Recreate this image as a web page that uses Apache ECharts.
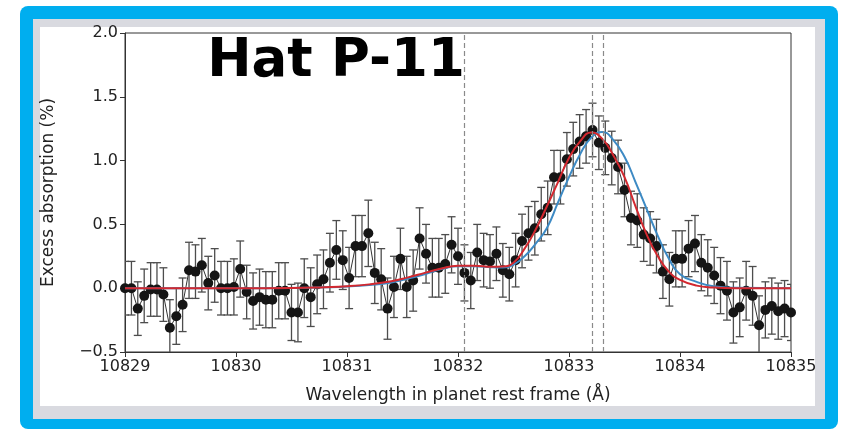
<!DOCTYPE html>
<html>
<head>
<meta charset="utf-8">
<script src="https://cdn.jsdelivr.net/npm/echarts@6/dist/echarts.min.js"></script>
<style>
html,body{margin:0;padding:0;background:#fff;}
#chart{width:841px;height:430px;}
</style>
</head>
<body>
<div id="chart"></div>
<script>
// Wavelength grid of the measured points (Å)
const wavelengths = [
10829.000,10829.058,10829.115,10829.173,10829.231,10829.288,10829.346,10829.404,10829.462,10829.519,
10829.577,10829.635,10829.692,10829.750,10829.808,10829.865,10829.923,10829.981,10830.038,10830.096,
10830.154,10830.212,10830.269,10830.327,10830.385,10830.442,10830.500,10830.558,10830.615,10830.673,
10830.731,10830.788,10830.846,10830.904,10830.962,10831.019,10831.077,10831.135,10831.192,10831.250,
10831.308,10831.365,10831.423,10831.481,10831.538,10831.596,10831.654,10831.712,10831.769,10831.827,
10831.885,10831.942,10832.000,10832.058,10832.115,10832.173,10832.231,10832.288,10832.346,10832.404,
10832.462,10832.519,10832.577,10832.635,10832.692,10832.750,10832.808,10832.865,10832.923,10832.981,
10833.038,10833.096,10833.154,10833.212,10833.269,10833.327,10833.385,10833.442,10833.500,10833.558,
10833.615,10833.673,10833.731,10833.788,10833.846,10833.904,10833.962,10834.019,10834.077,10834.135,
10834.192,10834.250,10834.308,10834.365,10834.423,10834.481,10834.538,10834.596,10834.654,10834.712,
10834.769,10834.827,10834.885,10834.942,10835.000];

// Excess absorption (%) at each wavelength
const absorption = [
0.00,0.00,-0.16,-0.06,-0.01,-0.01,-0.05,-0.31,-0.22,-0.13,
0.14,0.13,0.18,0.04,0.10,0.00,0.00,0.01,0.15,-0.03,
-0.10,-0.07,-0.09,-0.09,-0.02,-0.02,-0.19,-0.19,0.00,-0.07,
0.03,0.07,0.20,0.30,0.22,0.08,0.33,0.33,0.43,0.12,
0.07,-0.16,0.01,0.23,0.01,0.06,0.39,0.27,0.16,0.16,
0.19,0.34,0.25,0.12,0.06,0.28,0.22,0.21,0.27,0.14,
0.11,0.22,0.37,0.43,0.47,0.58,0.63,0.87,0.87,1.01,
1.09,1.15,1.19,1.24,1.14,1.10,1.02,0.95,0.77,0.55,
0.53,0.42,0.39,0.33,0.13,0.07,0.23,0.23,0.31,0.35,
0.20,0.16,0.10,0.02,-0.02,-0.19,-0.15,-0.02,-0.06,-0.29,
-0.17,-0.14,-0.18,-0.16,-0.19];

// 1-sigma uncertainties
const errors = [
0.21,0.21,0.21,0.21,0.21,0.21,0.21,0.22,0.22,0.21,
0.22,0.21,0.21,0.21,0.21,0.21,0.21,0.22,0.22,0.21,
0.22,0.22,0.22,0.22,0.22,0.22,0.22,0.23,0.23,0.23,
0.23,0.23,0.23,0.23,0.23,0.24,0.24,0.24,0.26,0.24,
0.24,0.24,0.24,0.24,0.24,0.24,0.24,0.23,0.23,0.23,
0.23,0.22,0.22,0.22,0.22,0.22,0.21,0.21,0.21,0.21,
0.21,0.21,0.21,0.21,0.21,0.21,0.21,0.21,0.21,0.21,
0.21,0.21,0.21,0.21,0.21,0.21,0.21,0.21,0.21,0.21,
0.21,0.21,0.21,0.21,0.21,0.21,0.22,0.22,0.22,0.22,
0.22,0.22,0.22,0.22,0.23,0.24,0.23,0.23,0.23,0.23,
0.22,0.22,0.22,0.22,0.22];

// Model curves
const fitX = [10829,10830,10830.5,10830.8,10831.0,10831.2,10831.4,10831.55,10831.7,10831.85,
10832.0,10832.15,10832.3,10832.4,10832.5,10832.6,10832.7,10832.8,10832.9,10833.0,
10833.1,10833.2,10833.3,10833.4,10833.5,10833.6,10833.7,10833.8,10833.9,10834.0,
10834.15,10834.3,10834.5,10835];
const redFit = [0,0,0.002,0.008,0.015,0.03,0.055,0.085,0.12,0.155,
0.175,0.176,0.168,0.17,0.20,0.31,0.46,0.64,0.83,1.02,
1.15,1.22,1.17,1.04,0.87,0.64,0.42,0.25,0.13,0.065,
0.02,0.006,0,0];
const blueFit = [0,0,0.002,0.007,0.013,0.025,0.045,0.075,0.11,0.15,
0.172,0.172,0.165,0.163,0.185,0.25,0.35,0.47,0.67,0.87,
1.05,1.18,1.225,1.16,1.03,0.83,0.62,0.41,0.23,0.11,
0.05,0.015,0.003,0];

// Vertical reference lines (Å)
const refLines = [10832.06, 10833.21, 10833.31];

const xTicks = [10829,10830,10831,10832,10833,10834,10835];
const yTicks = [-0.5,0.0,0.5,1.0,1.5,2.0];

const pts = wavelengths.map((w,i)=>[w, absorption[i]]);
const errData = wavelengths.map((w,i)=>[w, absorption[i]-errors[i], absorption[i]+errors[i]]);
const redData = fitX.map((x,i)=>[x, redFit[i]]);
const blueData = fitX.map((x,i)=>[x, blueFit[i]]);

const chart = echarts.init(document.getElementById('chart'), null, {renderer:'canvas'});
const FONT = '"DejaVu Sans", sans-serif';

chart.setOption({
  animation:false,
  backgroundColor:'#ffffff',
  graphic:[
    {type:'rect', z:-100, shape:{x:20,y:6,width:818,height:423,r:8}, style:{fill:'#00AEEF'}},
    {type:'rect', z:-99, shape:{x:33,y:19,width:792,height:400}, style:{fill:'#D9DAE0'}},
    {type:'rect', z:-98, shape:{x:40,y:27,width:775,height:379}, style:{fill:'#ffffff'}},
    {type:'text', z:100, x:336, y:62, style:{text:'Hat P-11', font:'bold 53px "DejaVu Sans", sans-serif', fill:'#000', align:'center', verticalAlign:'middle'}}
  ],
  grid:{left:125, right:50, top:33, bottom:78, show:true, borderColor:'#333', borderWidth:1, backgroundColor:'transparent'},
  xAxis:{
    type:'value', min:xTicks[0], max:xTicks[xTicks.length-1], interval:1,
    name:'Wavelength in planet rest frame (Å)', nameLocation:'middle', nameGap:35,
    nameTextStyle:{fontFamily:FONT, fontSize:17, color:'#222'},
    axisLine:{show:true, onZero:false, lineStyle:{color:'#333', width:1}},
    axisTick:{show:true, inside:false, length:5, lineStyle:{color:'#333'}},
    axisLabel:{fontFamily:FONT, fontSize:16, color:'#222', margin:7, formatter:v=>String(v)},
    splitLine:{show:false}
  },
  yAxis:{
    type:'value', min:yTicks[0], max:yTicks[yTicks.length-1], interval:0.5,
    name:'Excess absorption (%)', nameLocation:'middle', nameGap:68,
    nameTextStyle:{fontFamily:FONT, fontSize:17, color:'#222'},
    axisLine:{show:true, lineStyle:{color:'#333', width:1}},
    axisTick:{show:true, inside:false, length:5, lineStyle:{color:'#333'}},
    axisLabel:{fontFamily:FONT, fontSize:16, color:'#222', margin:7,
      formatter:v=>(v<0?'\u2212':'')+Math.abs(v).toFixed(1)},
    splitLine:{show:false}
  },
  series:[
    {
      type:'custom', name:'err', clip:true, z:1,
      data:errData,
      renderItem:(params, api)=>{
        const x = api.value(0);
        const lo = api.coord([x, api.value(1)]);
        const hi = api.coord([x, api.value(2)]);
        const c = 4;
        const st = {stroke:'#4d4d4d', lineWidth:1.3};
        return {type:'group', children:[
          {type:'line', shape:{x1:lo[0],y1:lo[1],x2:hi[0],y2:hi[1]}, style:st},
          {type:'line', shape:{x1:lo[0]-c,y1:lo[1],x2:lo[0]+c,y2:lo[1]}, style:st},
          {type:'line', shape:{x1:hi[0]-c,y1:hi[1],x2:hi[0]+c,y2:hi[1]}, style:st}
        ]};
      },
      markLine:{
        silent:true, symbol:['none','none'], label:{show:false},
        lineStyle:{type:[5,3], color:'#8a8a8a', width:1.2},
        data:refLines.map(v=>({xAxis:v}))
      }
    },
    {
      type:'line', name:'data', z:2, data:pts,
      symbol:'circle', symbolSize:10, showSymbol:true,
      itemStyle:{color:'#151515'},
      lineStyle:{color:'#333', width:1},
      emphasis:{disabled:true}
    },
    {
      type:'line', name:'blue', z:3, data:blueData, symbol:'none', smooth:0.5,
      lineStyle:{color:'#3d8ac4', width:2}
    },
    {
      type:'line', name:'red', z:4, data:redData, symbol:'none', smooth:0.5,
      lineStyle:{color:'#d3282f', width:2}
    }
  ]
});
</script>
</body>
</html>
